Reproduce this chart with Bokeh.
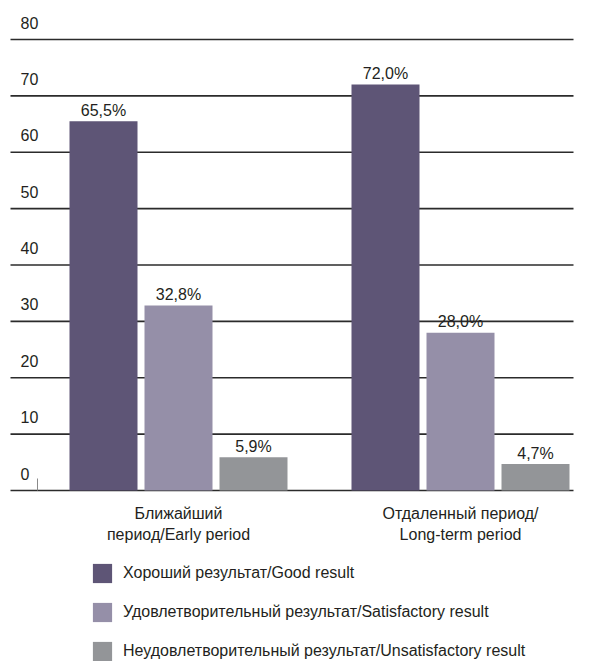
from bokeh.plotting import figure
from bokeh.models import Range1d, ColumnDataSource, Legend, LegendItem
from bokeh.core.properties import value
from bokeh.embed import file_html
from bokeh.resources import INLINE

# ---- data ----
categories = ["Ближайший\nпериод/Early period", "Отдаленный период/\nLong-term period"]
series_names = [
    "Хороший результат/Good result",
    "Удовлетворительный результат/Satisfactory result",
    "Неудовлетворительный результат/Unsatisfactory result",
]
good = [65.5, 72.0]
satisfactory = [32.8, 28.0]
unsatisfactory = [5.9, 4.7]
y_ticks = [0, 10, 20, 30, 40, 50, 60, 70, 80]

# ---- layout / style ----
W, H = 589, 661
FONT = "Liberation Sans"
TEXT_COLOR = "#231f20"
GRID_COLOR = "#2b2b2b"
colors = ["#5e5576", "#958fa8", "#939598"]
group_centers = [178, 460]
offsets = [-75, 0, 75]
bar_width = 68
grid_x0, grid_x1 = 10, 573

# y scale: value 0 sits at 490 px from top, 80 at 39 px
px_per_unit = (490 - 39) / 80.0
y_max = 490 / px_per_unit
y_min = y_max - H / px_per_unit

p = figure(width=W, height=H, x_range=Range1d(0, W), y_range=Range1d(y_min, y_max),
           output_backend="svg", toolbar_location=None, min_border=0,
           x_axis_location=None, y_axis_location=None)
p.grid.visible = False
p.outline_line_color = None
p.background_fill_color = "white"
p.border_fill_color = "white"

# horizontal gridlines (including baseline)
p.segment(x0=[grid_x0] * len(y_ticks), x1=[grid_x1] * len(y_ticks),
          y0=y_ticks, y1=y_ticks, line_color=GRID_COLOR, line_width=1.6)
# small axis stub at the left end of the baseline
p.segment(x0=[37], x1=[37], y0=[0], y1=[12 / px_per_unit], line_color="#8a8a8a", line_width=1)

# y tick labels sit above each gridline
p.text(x=[20] * len(y_ticks), y=y_ticks, text=[str(t) for t in y_ticks],
       text_font=value(FONT), text_font_size="16px", text_color=TEXT_COLOR,
       text_align="left", text_baseline="alphabetic", y_offset=-17)

# bars
renderers = []
for i, vals in enumerate([good, satisfactory, unsatisfactory]):
    xs = [c + offsets[i] for c in group_centers]
    src = ColumnDataSource(dict(x=xs, top=vals,
                                label=[f"{v:.1f}".replace(".", ",") + "%" for v in vals]))
    r = p.vbar(x="x", top="top", bottom=0, width=bar_width, source=src,
               fill_color=colors[i], line_color=None)
    renderers.append(r)
    p.text(x="x", y="top", text="label", source=src,
           text_font=value(FONT), text_font_size="16px", text_color=TEXT_COLOR,
           text_align="center", text_baseline="alphabetic", y_offset=-11)

# category labels under the groups
for k, line_off in enumerate([23, 44]):
    lines = [c.split("\n")[k] for c in categories]
    p.text(x=group_centers, y=[0, 0], text=lines,
           text_font=value(FONT), text_font_size="16px", text_color=TEXT_COLOR,
           text_align="center", text_baseline="alphabetic", y_offset=line_off)

legend = Legend(
    items=[LegendItem(label=n, renderers=[r]) for n, r in zip(series_names, renderers)],
    location=(90, -2), orientation="vertical",
    glyph_width=24, glyph_height=24, label_height=24, spacing=15, label_standoff=9,
    padding=0, margin=0, border_line_color=None, background_fill_alpha=0,
    label_text_font=FONT, label_text_font_size="16px", label_text_color=TEXT_COLOR,
)
p.add_layout(legend, "center")

open("out.html", "w").write(file_html(p, INLINE))
